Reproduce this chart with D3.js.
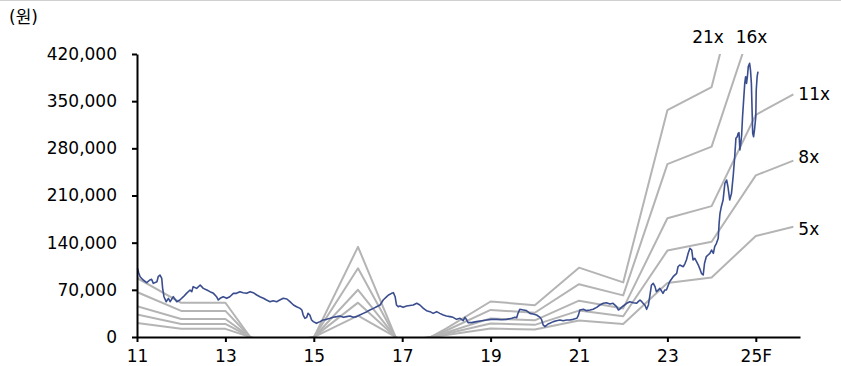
<!DOCTYPE html>
<html>
<head>
<meta charset="utf-8">
<script src="https://cdn.jsdelivr.net/npm/d3@7"></script>
<style>
  body { margin: 0; background: #fff; }
  svg { font-family: "DejaVu Sans", "Noto Sans CJK KR", sans-serif; }
</style>
</head>
<body>
<svg id="chart" width="841" height="366"></svg>
<script>
// PER band data: year-end EPS (won) and band multiples
const bandYears = [2011, 2012, 2013, 2014, 2015, 2016, 2017, 2018, 2019, 2020, 2021, 2022, 2023, 2024, 2025, 2025.85];
const eps = [4170, 2420, 2420, -1900, -30, 6370, -1124, 605, 2510, 2250, 4900, 3860, 16030, 17660, 29980, 32720];
const multiples = [21, 16, 11, 8, 5];

// share price (decimal year, won)
const priceYears = [
  2011.01, 2011.04, 2011.07, 2011.14, 2011.22, 2011.29, 2011.33, 2011.37, 2011.45, 2011.48,
  2011.52, 2011.56, 2011.58, 2011.61, 2011.66, 2011.71, 2011.75, 2011.82, 2011.90, 2011.97,
  2012.05, 2012.12, 2012.20, 2012.24, 2012.27, 2012.35, 2012.43, 2012.50, 2012.58, 2012.65,
  2012.73, 2012.80, 2012.84, 2012.88, 2012.95, 2013.03, 2013.10, 2013.18, 2013.25, 2013.33,
  2013.40, 2013.48, 2013.56, 2013.63, 2013.71, 2013.78, 2013.86, 2013.93, 2014.01, 2014.08,
  2014.16, 2014.23, 2014.31, 2014.39, 2014.46, 2014.54, 2014.61, 2014.69, 2014.73, 2014.76,
  2014.80, 2014.84, 2014.87, 2014.91, 2014.95, 2014.99, 2015.06, 2015.14, 2015.21, 2015.29,
  2015.37, 2015.44, 2015.52, 2015.59, 2015.67, 2015.74, 2015.82, 2015.89, 2015.97, 2016.04,
  2016.12, 2016.20, 2016.27, 2016.35, 2016.42, 2016.50, 2016.57, 2016.65, 2016.69, 2016.76,
  2016.80, 2016.84, 2016.87, 2016.91, 2016.95, 2017.02, 2017.10, 2017.25, 2017.33, 2017.40,
  2017.48, 2017.55, 2017.63, 2017.70, 2017.78, 2017.85, 2017.93, 2018.00, 2018.08, 2018.15,
  2018.23, 2018.31, 2018.38, 2018.42, 2018.46, 2018.49, 2018.57, 2018.68, 2018.80, 2018.91,
  2019.02, 2019.14, 2019.25, 2019.36, 2019.48, 2019.55, 2019.59, 2019.62, 2019.66, 2019.74,
  2019.81, 2019.89, 2019.96, 2020.04, 2020.12, 2020.15, 2020.19, 2020.23, 2020.30, 2020.34,
  2020.42, 2020.49, 2020.57, 2020.64, 2020.72, 2020.79, 2020.87, 2020.95, 2020.98, 2021.02,
  2021.10, 2021.17, 2021.25, 2021.32, 2021.40, 2021.47, 2021.55, 2021.62, 2021.70, 2021.77,
  2021.85, 2021.89, 2021.92, 2021.96, 2022.00, 2022.08, 2022.15, 2022.23, 2022.30, 2022.34,
  2022.38, 2022.42, 2022.45, 2022.49, 2022.53, 2022.57, 2022.60, 2022.64, 2022.68, 2022.72,
  2022.75, 2022.79, 2022.83, 2022.90, 2022.94, 2022.98, 2023.05, 2023.13, 2023.21, 2023.24,
  2023.28, 2023.36, 2023.40, 2023.43, 2023.47, 2023.51, 2023.55, 2023.58, 2023.62, 2023.66,
  2023.70, 2023.73, 2023.77, 2023.81, 2023.84, 2023.88, 2023.92, 2023.96, 2024.00, 2024.04,
  2024.07, 2024.11, 2024.15, 2024.17, 2024.19, 2024.22, 2024.26, 2024.30, 2024.34, 2024.37,
  2024.41, 2024.45, 2024.49, 2024.52, 2024.55, 2024.58, 2024.60, 2024.62, 2024.64, 2024.66,
  2024.68, 2024.70, 2024.73, 2024.75, 2024.77, 2024.79, 2024.81, 2024.83, 2024.86, 2024.88,
  2024.90, 2024.92, 2024.93, 2024.95, 2024.97, 2025.00, 2025.01, 2025.03, 2025.05
];
const priceValues = [
  101900, 95000, 89500, 84600, 80600, 84600, 85600, 79600, 82100, 89500,
  92000, 87000, 72200, 59800, 52400, 57400, 52400, 59800, 52400, 54900,
  59800, 64800, 69700, 67300, 74700, 72200, 77200, 72200, 69700, 67300,
  64800, 59800, 54900, 57400, 59800, 57400, 59800, 64800, 64800, 67300,
  65800, 64800, 67300, 65800, 62300, 59800, 57400, 54900, 52400, 53900,
  52400, 54900, 57400, 56400, 52400, 47500, 45000, 42500, 40100, 32600,
  27700, 29200, 35100, 32600, 25200, 22800, 20300, 22800, 25200, 26200,
  27700, 29200, 30200, 31200, 29200, 30200, 31200, 29200, 30200, 32600,
  35100, 37600, 40100, 42500, 45000, 47500, 54900, 59800, 62300, 64800,
  65800, 59800, 47500, 45000, 46000, 44000, 46000, 47500, 50000, 47500,
  42500, 39100, 37600, 35100, 37600, 35100, 32600, 31200, 30200, 29200,
  26200, 27700, 24200, 29200, 25200, 21300, 21300, 22800, 24200, 25200,
  26200, 26200, 25500, 26200, 27700, 29200, 28500, 35100, 41100, 40100,
  39100, 35100, 34100, 32600, 29200, 26200, 17800, 15300, 19300, 20300,
  22800, 24200, 25200, 24200, 25200, 25200, 26200, 27700, 31200, 40100,
  41100, 39100, 40100, 41100, 44000, 47500, 50000, 50900, 49000, 50000,
  45000, 40100, 41100, 44000, 46000, 50000, 52400, 50900, 50000, 52400,
  54900, 52400, 50000, 47500, 41100, 47500, 59800, 77200, 79700, 74700,
  67300, 69700, 72200, 64800, 69700, 70000, 82100, 89500, 94500, 104300,
  106800, 104300, 109400, 114300, 124200, 131600, 129100, 114300, 116800, 111700,
  106800, 101900, 94500, 92000, 109400, 119200, 121700, 124200, 129100, 124200,
  134000, 139000, 146500, 168700, 183600, 193400, 203300, 228000, 233000, 223000,
  203300, 213200, 240000, 265000, 294800, 297300, 302200, 303200, 277500, 287400,
  299800, 327000, 356700, 376400, 386300, 376400, 386300, 401200, 406100, 396200,
  376400, 327000, 302200, 297300, 307200, 327000, 366500, 386300, 393700
];

const xTicks = [2011, 2013, 2015, 2017, 2019, 2021, 2023, 2025];
const xTickLabels = ["11", "13", "15", "17", "19", "21", "23", "25F"];
const yTicks = [0, 70000, 140000, 210000, 280000, 350000, 420000];

const svg = d3.select("#chart");
const plotLeft = 137, plotRight = 800, plotTop = 54, plotBottom = 337;

const x = d3.scaleLinear().domain([2011, 2026]).range([plotLeft, plotRight]);
const y = d3.scaleLinear().domain([0, 420000]).range([plotBottom, plotTop]);

// thin rule on top of the page
svg.append("line")
    .attr("x1", 0).attr("x2", 841).attr("y1", 0.5).attr("y2", 0.5)
    .attr("stroke", "#d0d0d0").attr("stroke-width", 1);

svg.append("defs").append("clipPath").attr("id", "plot")
    .append("rect")
    .attr("x", plotLeft).attr("y", plotTop)
    .attr("width", plotRight - plotLeft).attr("height", plotBottom - plotTop);

// band lines
const bandLine = d3.line().x(d => x(d[0])).y(d => y(d[1]));
const bands = multiples.map(m => ({
    m: m,
    pts: bandYears.map((yr, i) => [yr, eps[i] * m])
}));

svg.append("g").attr("clip-path", "url(#plot)")
    .selectAll("path")
    .data(bands)
    .enter()
    .append("path")
    .attr("d", d => bandLine(d.pts))
    .attr("fill", "none")
    .attr("stroke", "#b4b4b4")
    .attr("stroke-width", 2)
    .attr("stroke-linejoin", "round");

// price line
const priceLine = d3.line().x(d => x(d[0])).y(d => y(d[1]));
svg.append("path")
    .datum(priceYears.map((yr, i) => [yr, priceValues[i]]))
    .attr("d", priceLine)
    .attr("fill", "none")
    .attr("stroke", "#3a4d8f")
    .attr("stroke-width", 1.6)
    .attr("stroke-linejoin", "round");

// axes
const yAxis = svg.append("g")
    .attr("transform", `translate(${plotLeft},0)`)
    .call(d3.axisLeft(y).tickValues(yTicks).tickFormat(d3.format(",")).tickSize(5).tickSizeOuter(0).tickPadding(15));

const xAxis = svg.append("g")
    .attr("transform", `translate(0,${plotBottom})`)
    .call(d3.axisBottom(x).tickValues(xTicks).tickFormat((d, i) => xTickLabels[i]).tickSize(5).tickSizeOuter(0).tickPadding(8));

[yAxis, xAxis].forEach(g => {
    g.select(".domain").attr("stroke", "#000").attr("stroke-width", 2);
    g.selectAll(".tick line").attr("stroke", "#000").attr("stroke-width", 2);
    g.selectAll(".tick text")
        .attr("fill", "#000")
        .style("font-size", "17px")
        .style("font-family", "'DejaVu Sans', sans-serif");
});

// unit label
svg.append("text")
    .attr("x", 9).attr("y", 23)
    .style("font-size", "17px")
    .text("(원)");

// band labels
const last = bandYears.length - 1;
const labels = svg.append("g").style("font-size", "17px");
labels.append("text").attr("x", x(2024.19) - 12).attr("y", 43).attr("text-anchor", "middle").text("21x");
labels.append("text").attr("x", x(2024.70) + 9).attr("y", 43).attr("text-anchor", "middle").text("16x");
const labelShift = { 11: 6, 8: 2, 5: 8 };
[11, 8, 5].forEach(m => {
    labels.append("text")
        .attr("x", x(bandYears[last]) + 5)
        .attr("y", y(eps[last] * m) + labelShift[m])
        .text(m + "x");
});
</script>
</body>
</html>
